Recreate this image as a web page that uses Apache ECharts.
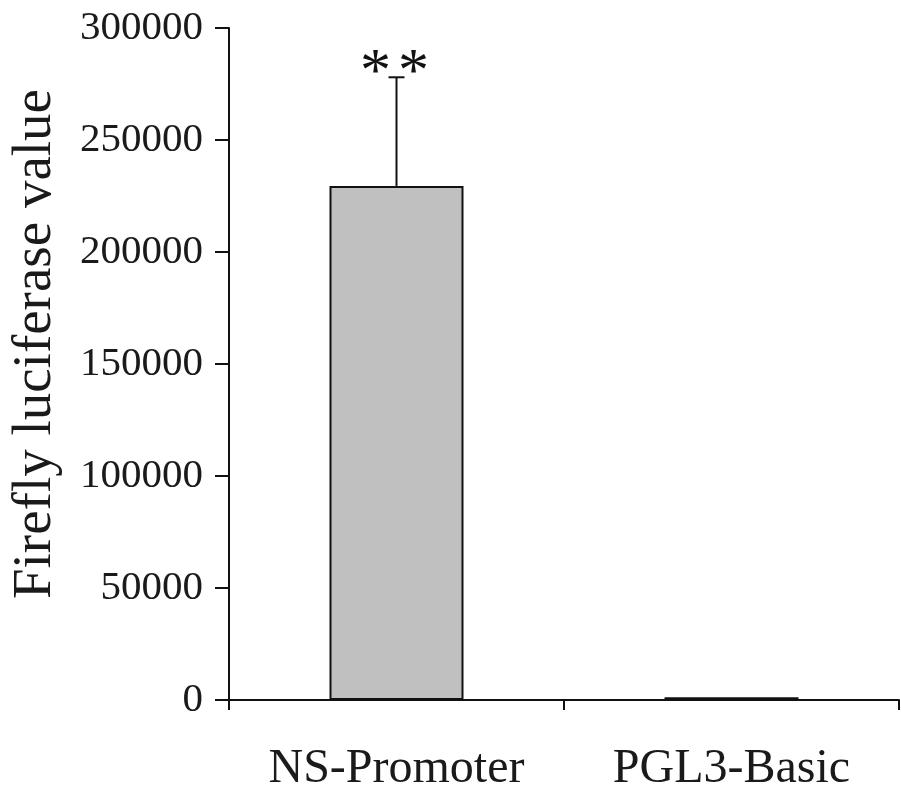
<!DOCTYPE html>
<html>
<head>
<meta charset="utf-8">
<script src="https://cdn.jsdelivr.net/npm/echarts@6/dist/echarts.min.js"></script>
<style>
  html, body { margin: 0; padding: 0; background: #fff; }
  #chart { width: 901px; height: 797px; }
</style>
</head>
<body>
<div id="chart"></div>
<script>
// 数据
var categories = ['NS-Promoter', 'PGL3-Basic'];
var values = [229500, 1200];
var errors = [48500, 0];
var marks = ['**', ''];
var yTicks = [0, 50000, 100000, 150000, 200000, 250000, 300000];

var fontName = '"Liberation Serif", "Times New Roman", serif';

// 误差线数据
var errData = [];
for (var i = 0; i < categories.length; i++) {
    errData.push([i, values[i], errors[i]]);
}

var myChart = echarts.init(document.getElementById('chart'));

var option = {
    backgroundColor: '#fff',
    animation: false,
    grid: {
        left: 229,
        right: 2,
        top: 28,
        bottom: 97,
        containLabel: false,
        outerBoundsMode: 'none'
    },
    xAxis: {
        type: 'category',
        data: categories,
        axisLine: { lineStyle: { color: '#111', width: 2 } },
        axisTick: { show: true, length: 10, lineStyle: { color: '#111', width: 2 } },
        axisLabel: {
            interval: 0,
            color: '#1a1a1a',
            fontFamily: fontName,
            fontSize: 48,
            margin: 45
        }
    },
    yAxis: {
        type: 'value',
        min: yTicks[0],
        max: yTicks[yTicks.length - 1],
        interval: 50000,
        name: 'Firefly luciferase value',
        nameLocation: 'middle',
        nameGap: 166,
        nameRotate: 90,
        nameTextStyle: {
            color: '#1a1a1a',
            fontFamily: fontName,
            fontSize: 55,
            padding: [0, 0, 0, 40]
        },
        axisLine: { show: true, lineStyle: { color: '#111', width: 2 } },
        axisTick: { show: true, length: 14, lineStyle: { color: '#111', width: 2 } },
        splitLine: { show: false },
        axisLabel: {
            color: '#1a1a1a',
            fontFamily: fontName,
            fontSize: 41,
            margin: 26,
            formatter: function (v) { return String(v); }
        }
    },
    series: [{
        type: 'bar',
        data: values,
        barWidth: '40%',
        itemStyle: {
            color: '#c0c0c0',
            borderColor: '#111',
            borderWidth: 2
        }
    }, {
        type: 'custom',
        data: errData,
        z: 5,
        renderItem: function (params, api) {
            var x = api.value(0);
            var v = api.value(1);
            var e = api.value(2);
            var mark = marks[params.dataIndex];
            var bottom = api.coord([x, v]);
            var top = api.coord([x, v + e]);
            var children = [];
            if (e > 0) {
                children.push({
                    type: 'line',
                    shape: { x1: bottom[0], y1: bottom[1], x2: top[0], y2: top[1] },
                    style: { stroke: '#111', lineWidth: 2 }
                });
                children.push({
                    type: 'line',
                    shape: { x1: top[0] - 8, y1: top[1], x2: top[0] + 8, y2: top[1] },
                    style: { stroke: '#111', lineWidth: 2 }
                });
            }
            // 显著性星号
            for (var k = 0; k < mark.length; k++) {
                children.push({
                    type: 'text',
                    x: top[0] - 21 + k * 38,
                    y: top[1] - 4,
                    style: {
                        text: mark.charAt(k),
                        fill: '#111',
                        font: '62px ' + fontName,
                        align: 'center',
                        verticalAlign: 'middle'
                    }
                });
            }
            return { type: 'group', children: children };
        }
    }]
};

myChart.setOption(option);
</script>
</body>
</html>
